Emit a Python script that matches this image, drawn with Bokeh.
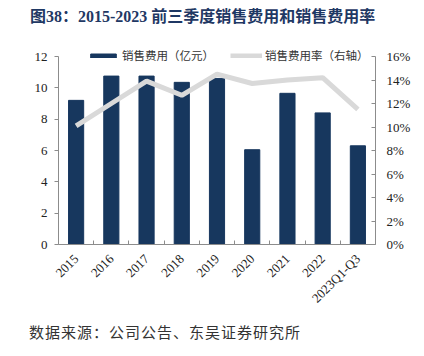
from bokeh.plotting import figure
from bokeh.models import Range1d, LinearAxis, FixedTicker, Legend, LegendItem, Div
from bokeh.layouts import column
from bokeh.embed import file_html
from bokeh.resources import INLINE
import math

# ---- data ----
categories = ["2015", "2016", "2017", "2018", "2019", "2020", "2021", "2022", "2023Q1-Q3"]
sales_expense = [9.2, 10.75, 10.75, 10.35, 10.6, 6.05, 9.65, 8.4, 6.3]      # 亿元
sales_ratio = [10.1, 12.0, 13.9, 12.7, 14.5, 13.7, 14.0, 14.2, 11.5]        # %
left_ticks = [0, 2, 4, 6, 8, 10, 12]
right_ticks = [0, 2, 4, 6, 8, 10, 12, 14, 16]
left_label = "销售费用（亿元）"
right_label = "销售费用率（右轴）"
title_text = "图38：2015-2023 前三季度销售费用和销售费用率"
source_text = "数据来源：公司公告、东吴证券研究所"

BAR = "#17375E"
LINE = "#D9D9D9"
AXIS = "#8C8C8C"
NUM_FONT = "Liberation Serif"
CJK_FONT = "Noto Sans CJK SC"

n = len(categories)
centers = [i + 0.5 for i in range(n)]
bounds = [i for i in range(n + 1)]


def rule(height):
    r = figure(width=402, height=height, output_backend="svg", toolbar_location=None,
               x_axis_location=None, y_axis_location=None,
               min_border=0, margin=(0, 0, 0, 20))
    r.background_fill_color = "#111111"
    r.border_fill_color = "#111111"
    r.outline_line_color = None
    r.xgrid.grid_line_color = None
    r.ygrid.grid_line_color = None
    return r


# ---- title ----
title_div = Div(
    text=(f'<div style="font-family:\'{NUM_FONT}\',\'{CJK_FONT}\';font-weight:bold;'
          f'font-size:16px;color:#1F3864;line-height:34px;padding-left:10px;'
          f'white-space:nowrap;">{title_text}</div>'),
    width=402, height=38, margin=(0, 0, 0, 20))
title_rule = rule(2)

# ---- chart ----
FW, FH = 416, 275
TOP, BOT = 2, 71
frame_h = FH - TOP - BOT
px_per_left = 188 / 12.0
px_per_right = 188 / 16.0

p = figure(width=FW, height=FH, output_backend="svg", toolbar_location=None,
           x_range=Range1d(0, n),
           y_range=Range1d(0, frame_h / px_per_left),
           min_border_left=58, min_border_right=FW - 375, min_border_top=TOP,
           min_border_bottom=BOT,
           x_axis_location=None, y_axis_location=None, margin=(0, 0, 0, 0))
p.outline_line_color = None
p.xgrid.grid_line_color = None
p.ygrid.grid_line_color = None
p.extra_y_ranges = {"r": Range1d(0, frame_h / px_per_right)}

bars = p.vbar(x=centers, top=sales_expense, width=0.43, color=BAR)
ln = p.line(x=centers, y=sales_ratio, y_range_name="r", line_color=LINE, line_width=5)

xa = LinearAxis(ticker=FixedTicker(ticks=centers, minor_ticks=bounds))
xa.major_label_overrides = {c: lab for c, lab in zip(centers, categories)}
xa.major_tick_line_color = None
xa.minor_tick_in = 4
xa.minor_tick_out = 0
xa.minor_tick_line_color = AXIS
xa.axis_line_color = AXIS
xa.major_label_orientation = math.pi / 4
xa.major_label_text_font = NUM_FONT
xa.major_label_text_font_size = "13px"
xa.major_label_text_color = "#222222"
xa.major_label_standoff = 6
p.add_layout(xa, "below")

ya = LinearAxis(ticker=FixedTicker(ticks=left_ticks), bounds=(0, 12))
ya.minor_tick_line_color = None
ya.major_tick_in = 0
ya.major_tick_out = 4
ya.axis_line_color = AXIS
ya.major_tick_line_color = AXIS
ya.major_label_text_font = NUM_FONT
ya.major_label_text_font_size = "13px"
ya.major_label_text_color = "#222222"
ya.major_label_standoff = 7
p.add_layout(ya, "left")

ra = LinearAxis(y_range_name="r", ticker=FixedTicker(ticks=right_ticks), bounds=(0, 16))
ra.major_label_overrides = {t: f"{t}%" for t in right_ticks}
ra.minor_tick_line_color = None
ra.major_tick_in = 4
ra.major_tick_out = 0
ra.axis_line_color = AXIS
ra.major_tick_line_color = AXIS
ra.major_label_text_font = NUM_FONT
ra.major_label_text_font_size = "13px"
ra.major_label_text_color = "#222222"
ra.major_label_standoff = 11
p.add_layout(ra, "right")

legend = Legend(items=[LegendItem(label=left_label, renderers=[bars]),
                       LegendItem(label=right_label, renderers=[ln])],
                orientation="horizontal", location=(29, frame_h - 21),
                glyph_width=32, glyph_height=5, label_standoff=3, spacing=16,
                padding=0, margin=0, border_line_color=None, background_fill_alpha=0,
                label_text_font=CJK_FONT, label_text_font_size="11.5px",
                label_text_color="#333333", label_height=14)
p.add_layout(legend, "center")

# ---- source ----
source_rule = rule(2)
source_div = Div(
    text=(f'<div style="font-family:\'{CJK_FONT}\';font-size:15px;letter-spacing:1px;'
          f'color:#333;line-height:30px;padding-left:9px;white-space:nowrap;">'
          f'{source_text}</div>'),
    width=402, height=30, margin=(0, 0, 0, 20))

layout = column(title_div, title_rule, p, source_rule, source_div, spacing=0)
open("out.html", "w").write(file_html(layout, INLINE))
